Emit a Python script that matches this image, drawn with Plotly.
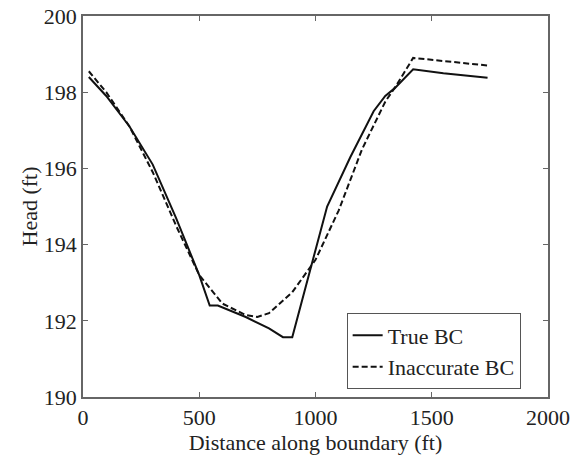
import plotly.graph_objects as go

true_x = [25, 100, 200, 300, 400, 500, 545, 580, 700, 800, 860, 900, 1050, 1150, 1250, 1300, 1340, 1420, 1550, 1740]
true_y = [198.4, 197.9, 197.1, 196.1, 194.7, 193.2, 192.4, 192.4, 192.1, 191.8, 191.57, 191.57, 195.0, 196.3, 197.5, 197.9, 198.1, 198.6, 198.5, 198.38]

inacc_x = [25, 100, 200, 300, 400, 500, 600, 700, 750, 800, 900, 1000, 1100, 1200, 1300, 1350, 1420, 1500, 1600, 1740]
inacc_y = [198.55, 198.0, 197.1, 195.9, 194.5, 193.2, 192.45, 192.15, 192.1, 192.2, 192.75, 193.6, 194.9, 196.5, 197.75, 198.2, 198.9, 198.85, 198.8, 198.7]

font = dict(family="Liberation Serif, Times New Roman, serif", size=22, color="#222")

fig = go.Figure()
fig.add_trace(go.Scatter(x=true_x, y=true_y, mode="lines", name="True BC",
                         line=dict(color="#111", width=2)))
fig.add_trace(go.Scatter(x=inacc_x, y=inacc_y, mode="lines", name="Inaccurate BC",
                         line=dict(color="#111", width=2, dash="6px,3px")))

axis_common = dict(showline=True, linecolor="#666", linewidth=1.5, mirror="ticks",
                   ticks="inside", ticklen=5, tickcolor="#666", showgrid=False,
                   zeroline=False, tickfont=font, automargin=False)
fig.update_xaxes(range=[0, 2000], tickvals=[0, 500, 1000, 1500, 2000],
                 title=dict(text="Distance along boundary (ft)", font=font, standoff=0),
                 **axis_common)
fig.update_yaxes(range=[190, 200], tickvals=[190, 192, 194, 196, 198, 200],
                 title=dict(text="Head (ft)", font=font, standoff=0),
                 **axis_common)

fig.update_layout(width=582, height=456, margin=dict(l=83, r=34, t=16, b=59),
                  plot_bgcolor="white", paper_bgcolor="white", font=font,
                  legend=dict(x=0.567, y=0.02, xanchor="left", yanchor="bottom",
                              bordercolor="#555", borderwidth=1, bgcolor="white",
                              font=font, tracegroupgap=0, itemwidth=30))
fig.write_html("out.html", config={"displayModeBar": False},
               post_script="document.body.style.margin='0';document.body.style.overflow='hidden';")
